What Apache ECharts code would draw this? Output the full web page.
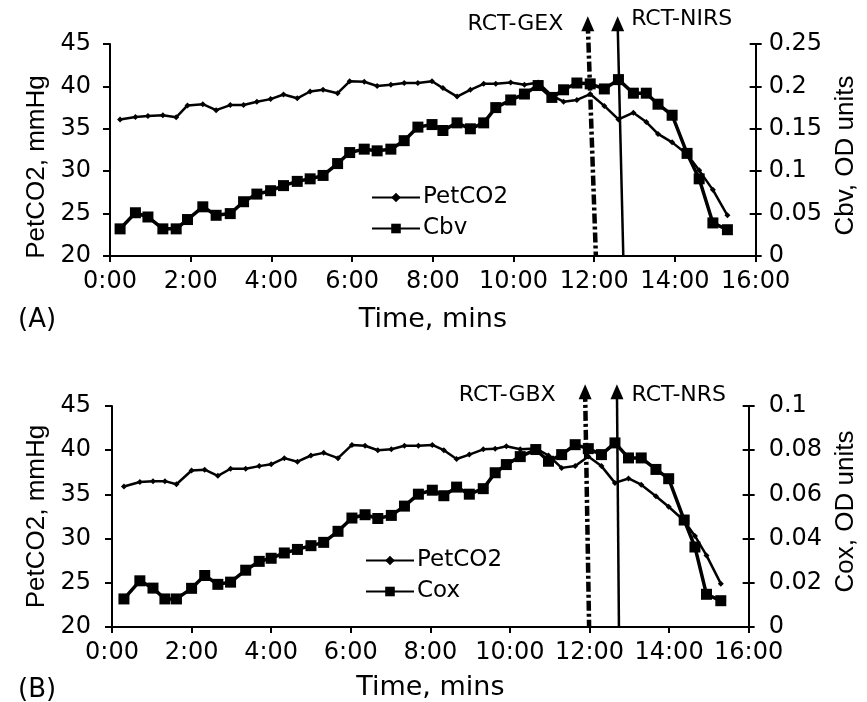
<!DOCTYPE html>
<html>
<head>
<meta charset="utf-8">
<title>PetCO2 vs Cbv / Cox</title>
<script src="https://cdn.jsdelivr.net/npm/echarts@6/dist/echarts.min.js"></script>
<style>
  html, body { margin: 0; padding: 0; background: #fff; }
  #chart { width: 867px; height: 702px; }
</style>
</head>
<body>
<div id="chart"></div>
<script>
// panel A: time (min), PetCO2 (mmHg), Cbv (OD units)
const timeA = [0.25, 0.63, 0.94, 1.31, 1.64, 1.92, 2.30, 2.63, 2.98, 3.31, 3.64, 3.98, 4.30, 4.64, 4.96, 5.28,
  5.64, 5.94, 6.30, 6.62, 6.96, 7.29, 7.63, 7.98, 8.25, 8.60, 8.93, 9.26, 9.56, 9.93, 10.27, 10.61,
  10.95, 11.24, 11.57, 11.90, 12.25, 12.60, 12.97, 13.29, 13.58, 13.93, 14.30, 14.60, 14.94, 15.30]
const petco2A = [36.1, 36.4, 36.5, 36.6, 36.35, 37.75, 37.9, 37.2, 37.8, 37.8, 38.2, 38.5, 39.05, 38.6, 39.4, 39.6,
  39.2, 40.6, 40.55, 40.05, 40.2, 40.4, 40.4, 40.6, 39.8, 38.8, 39.6, 40.3, 40.3, 40.45, 40.2, 40.45,
  38.9, 38.2, 38.4, 39.1, 37.7, 36.1, 36.9, 35.8, 34.4, 33.4, 32.0, 30.1, 27.8, 24.8]
const cbv = [0.032, 0.051, 0.046, 0.032, 0.032, 0.043, 0.058, 0.048, 0.050, 0.064, 0.073, 0.077, 0.083, 0.088, 0.091, 0.095,
  0.109, 0.122, 0.126, 0.124, 0.126, 0.136, 0.152, 0.155, 0.148, 0.157, 0.150, 0.157, 0.175, 0.184, 0.191, 0.201,
  0.187, 0.196, 0.204, 0.203, 0.197, 0.208, 0.192, 0.192, 0.179, 0.166, 0.121, 0.091, 0.039, 0.031]

// panel B: time (min), PetCO2 (mmHg), Cox (OD units)
const timeB = [0.30, 0.70, 1.03, 1.33, 1.62, 2.00, 2.33, 2.66, 2.98, 3.36, 3.70, 4.00, 4.33, 4.66, 5.00, 5.32,
  5.68, 6.03, 6.36, 6.68, 7.02, 7.35, 7.70, 8.05, 8.34, 8.66, 8.98, 9.33, 9.63, 9.91, 10.26, 10.65,
  10.97, 11.30, 11.64, 11.97, 12.30, 12.64, 12.98, 13.30, 13.67, 13.99, 14.38, 14.65, 14.94, 15.30]
const petco2B = [35.9, 36.4, 36.5, 36.5, 36.15, 37.7, 37.8, 37.1, 37.9, 37.9, 38.2, 38.4, 39.1, 38.7, 39.4, 39.7,
  39.1, 40.6, 40.5, 40.0, 40.1, 40.5, 40.5, 40.6, 40.0, 39.0, 39.5, 40.1, 40.15, 40.45, 40.1, 40.2,
  39.4, 38.0, 38.2, 39.3, 38.2, 36.3, 36.8, 36.1, 34.8, 33.6, 32.0, 30.3, 28.1, 24.9]
const cox = [0.0127, 0.0209, 0.0176, 0.0127, 0.0127, 0.0175, 0.0233, 0.0193, 0.0203, 0.0257, 0.0297, 0.0311, 0.0335, 0.0351, 0.0368, 0.0383,
  0.0433, 0.0493, 0.0508, 0.0491, 0.0505, 0.0547, 0.0601, 0.0619, 0.0594, 0.0633, 0.0601, 0.0626, 0.0698, 0.0735, 0.0771, 0.0803,
  0.0750, 0.0780, 0.0825, 0.0807, 0.0780, 0.0833, 0.0765, 0.0765, 0.0713, 0.0671, 0.0484, 0.0362, 0.0148, 0.0119]

// threshold arrows: [time, PetCO2] at arrow head and at the foot
const gexA = [[11.84, 47.4], [12.04, 20]]
const nirsA = [[12.58, 47.4], [12.72, 20]]
const gbxB = [[11.89, 46.6], [11.99, 20]]
const nrsB = [[12.69, 46.6], [12.74, 20]]

const FONT = 'DejaVu Sans'
const TITLE_FONT = 'Liberation Sans'

const pairs = (xs, ys) => xs.map((x, i) => [x, ys[i]])

const xAxisFor = (gridIndex, gap) => ({
  type: 'value',
  gridIndex,
  min: 0,
  max: 16,
  interval: 2,
  name: 'Time, mins',
  nameLocation: 'middle',
  nameGap: gap,
  nameTextStyle: { color: '#000', fontFamily: FONT, fontSize: 27 },
  axisLine: { lineStyle: { color: '#000', width: 2 } },
  axisTick: { length: 6, lineStyle: { color: '#000', width: 2 } },
  axisLabel: {
    color: '#000', fontFamily: FONT, fontSize: 24, margin: 14,
    formatter: (v) => v + ':00'
  },
  splitLine: { show: false }
})

const leftAxis = (gridIndex, gap, pad, margin) => ({
  type: 'value',
  gridIndex,
  position: 'left',
  min: 20,
  max: 45,
  interval: 5,
  name: 'PetCO2, mmHg',
  nameLocation: 'middle',
  nameRotate: 90,
  nameGap: gap,
  nameTextStyle: { color: '#000', fontFamily: TITLE_FONT, fontSize: 26, padding: pad },
  axisLine: { show: true, lineStyle: { color: '#000', width: 2 } },
  axisTick: { show: true, length: 7, lineStyle: { color: '#000', width: 2 } },
  axisLabel: { color: '#000', fontFamily: FONT, fontSize: 24, margin: margin },
  splitLine: { show: false }
})

const rightAxis = (gridIndex, name, max, interval, gap, pad, margin) => ({
  type: 'value',
  gridIndex,
  position: 'right',
  min: 0,
  max,
  interval,
  name,
  nameLocation: 'middle',
  nameRotate: 90,
  nameGap: gap,
  nameTextStyle: { color: '#000', fontFamily: TITLE_FONT, fontSize: 26, padding: pad },
  axisLine: { show: true, lineStyle: { color: '#000', width: 2 } },
  axisTick: { show: true, length: 6, lineStyle: { color: '#000', width: 2 } },
  axisLabel: { color: '#000', fontFamily: FONT, fontSize: 24, margin: margin },
  splitLine: { show: false }
})

// inner half of the right-hand ticks (they cross the axis line)
const rightInner = (gridIndex, max, interval) => ({
  type: 'value',
  gridIndex,
  position: 'right',
  min: 0,
  max,
  interval,
  axisLine: { show: false },
  axisTick: { show: true, inside: true, length: 6, lineStyle: { color: '#000', width: 2 } },
  axisLabel: { show: false },
  splitLine: { show: false }
})

const petSeries = (xIdx, yIdx, xs, ys) => ({
  name: 'PetCO2',
  type: 'line',
  xAxisIndex: xIdx,
  yAxisIndex: yIdx,
  data: pairs(xs, ys),
  symbol: 'diamond',
  symbolSize: 6,
  itemStyle: { color: '#000' },
  lineStyle: { color: '#000', width: 2.5 },
  z: 3
})

const odSeries = (name, xIdx, yIdx, xs, ys) => ({
  name,
  type: 'line',
  xAxisIndex: xIdx,
  yAxisIndex: yIdx,
  data: pairs(xs, ys),
  symbol: 'rect',
  symbolSize: 11,
  itemStyle: { color: '#000' },
  lineStyle: { color: '#000', width: 3.5 },
  z: 3
})

const arrowSeries = (label, pts, xIdx, yIdx, dashed, side, dist, dy) => ({
  name: label,
  type: 'line',
  xAxisIndex: xIdx,
  yAxisIndex: yIdx,
  clip: false,
  silent: true,
  z: 5,
  lineStyle: {
    color: '#000',
    width: dashed ? 4.5 : 2.5,
    type: dashed ? [10, 3, 3, 3] : 'solid'
  },
  itemStyle: { color: '#000' },
  data: [
    {
      value: pts[0],
      symbol: 'triangle',
      symbolSize: [13, 15],
      label: {
        show: true,
        formatter: label,
        position: side,
        distance: dist,
        offset: [0, dy],
        color: '#000',
        fontFamily: FONT,
        fontSize: 22
      }
    },
    { value: pts[1], symbol: 'none' }
  ]
})

const legendFor = (names, left, top) => ({
  data: names,
  orient: 'vertical',
  left,
  top,
  itemWidth: 48,
  itemHeight: 12,
  itemGap: 8,
  textStyle: { color: '#000', fontFamily: FONT, fontSize: 23, padding: [0, 0, 0, -2] },
  selectedMode: false
})

const chart = echarts.init(document.getElementById('chart'), null, { renderer: 'canvas' })

chart.setOption({
  backgroundColor: '#fff',
  animation: false,
  title: [
    { text: '(A)', left: 13, top: 302, textStyle: { fontFamily: FONT, fontSize: 26, fontWeight: 'normal', color: '#000' } },
    { text: '(B)', left: 13, top: 672, textStyle: { fontFamily: FONT, fontSize: 26, fontWeight: 'normal', color: '#000' } }
  ],
  legend: [
    legendFor(['PetCO2', 'Cbv'], 366, 181),
    legendFor(['PetCO2', 'Cox'], 360, 544)
  ],
  grid: [
    { left: 110, right: 107, top: 44, height: 212 },
    { left: 112, right: 116, top: 406, height: 223 }
  ],
  xAxis: [xAxisFor(0, 50), xAxisFor(1, 47)],
  yAxis: [
    leftAxis(0, 59, [0, 34, 0, 0], 19),
    rightAxis(0, 'Cbv, OD units', 0.25, 0.05, 70, [0, 11, 0, 0], 13),
    rightInner(0, 0.25, 0.05),
    leftAxis(1, 61, 0, 21),
    rightAxis(1, 'Cox, OD units', 0.1, 0.02, 82, [0, 0, 0, 10], 20),
    rightInner(1, 0.1, 0.02)
  ],
  series: [
    petSeries(0, 0, timeA, petco2A),
    odSeries('Cbv', 0, 1, timeA, cbv),
    arrowSeries('RCT-GEX', gexA, 0, 0, true, 'left', 18, 1),
    arrowSeries('RCT-NIRS', nirsA, 0, 0, false, 'right', 7, -4),
    petSeries(1, 3, timeB, petco2B),
    odSeries('Cox', 1, 4, timeB, cox),
    arrowSeries('RCT-GBX', gbxB, 1, 3, true, 'left', 23, 3),
    arrowSeries('RCT-NRS', nrsB, 1, 3, false, 'right', 8, 3)
  ]
})

window.addEventListener('resize', () => chart.resize())
</script>
</body>
</html>
